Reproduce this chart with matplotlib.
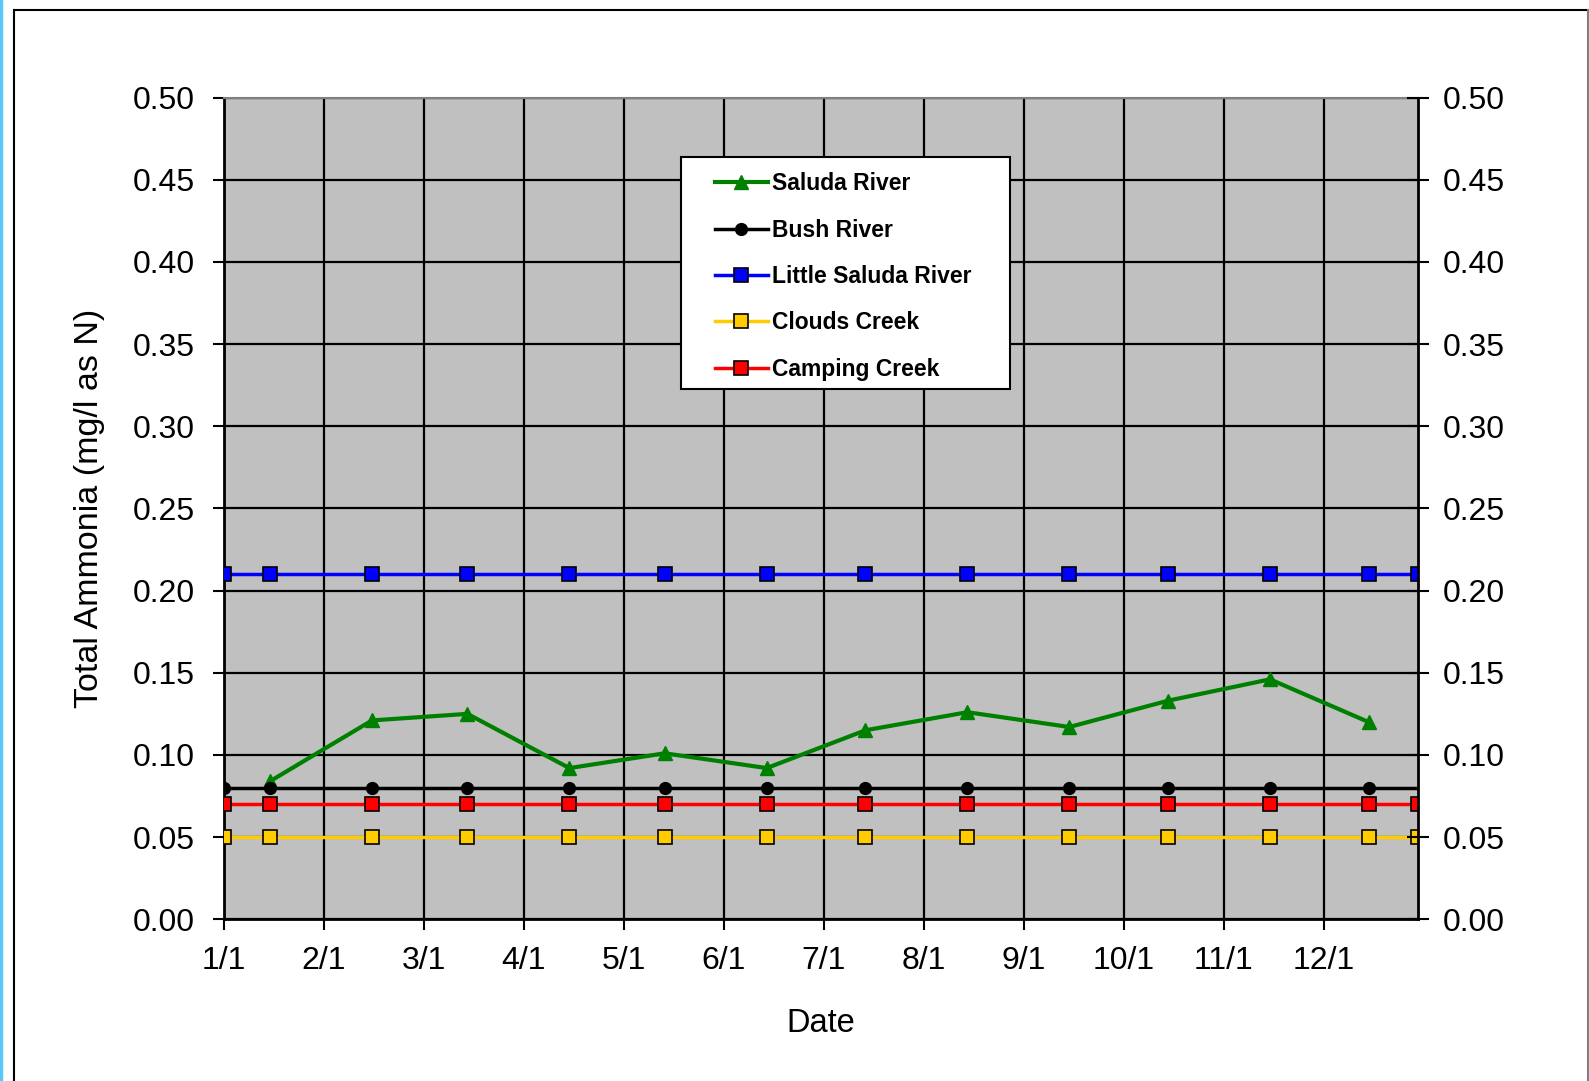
import matplotlib
matplotlib.use("Agg")
from matplotlib import pyplot as plt
from matplotlib.patches import Rectangle
from matplotlib.lines import Line2D

plt.rcParams["font.family"] = ["Liberation Sans", "DejaVu Sans"]

# sampling days (day of year) and series values
sample_day = [0, 14, 45, 74, 105, 134, 165, 195, 226, 257, 287, 318, 348, 363]
saluda_day = sample_day[1:13]
saluda = [0.084, 0.121, 0.125, 0.092, 0.101, 0.092, 0.115, 0.126, 0.117, 0.133, 0.146, 0.120]
bush = [0.08] * 14
little_saluda = [0.21] * 14
clouds = [0.05] * 14
camping = [0.07] * 14

month_labels = ["1/1", "2/1", "3/1", "4/1", "5/1", "6/1", "7/1", "8/1", "9/1", "10/1", "11/1", "12/1"]
month_ticks = [i * 30.4 for i in range(12)]
y_ticks = [0.0, 0.05, 0.10, 0.15, 0.20, 0.25, 0.30, 0.35, 0.40, 0.45, 0.50]

fig = plt.figure(figsize=(15.89, 10.81), dpi=100)
ax = fig.add_axes([224 / 1589, 1 - 919.3 / 1081, (1418 - 224) / 1589, (919.3 - 97.5) / 1081])
ax.set_facecolor("#C0C0C0")

ax.plot(saluda_day, saluda, color="#008000", lw=3.0, marker="^", ms=10,
        mfc="#008000", mec="#008000", label="Saluda River", zorder=5)
ax.plot(sample_day, bush, color="black", lw=2.5, marker="o", ms=8.5,
        markevery=list(range(13)), label="Bush River", zorder=5)
ax.plot(sample_day, little_saluda, color="#0000FF", lw=2.5, marker="s", ms=9.5,
        mfc="#0000FF", mec="black", mew=1.2, label="Little Saluda River", zorder=5)
ax.plot(sample_day, clouds, color="#FFCC00", lw=2.5, marker="s", ms=9.5,
        mfc="#FFCC00", mec="black", mew=1.2, label="Clouds Creek", zorder=5)
ax.plot(sample_day, camping, color="#FF0000", lw=2.5, marker="s", ms=9.5,
        mfc="#FF0000", mec="black", mew=1.2, label="Camping Creek", zorder=5)

ax.set_xlim(0, 363)
ax.set_ylim(0, 0.5)
ax.set_xticks(month_ticks, month_labels)
ax.set_yticks(y_ticks, [f"{v:.2f}" for v in y_ticks])
ax.grid(True, color="black", lw=1.6, zorder=1)
ax.set_axisbelow(True)
ax.tick_params(axis="both", labelsize=23, length=8, width=1.5, direction="out", color="black")
ax.tick_params(axis="y", pad=13)
ax.tick_params(axis="x", pad=11)
for s in ["left", "bottom"]:
    ax.spines[s].set_color("black")
    ax.spines[s].set_linewidth(2)
ax.spines["top"].set_color("#808080")
ax.spines["top"].set_linewidth(1.5)
ax.spines["right"].set_visible(False)

ax2 = ax.twinx()
ax2.set_ylim(0, 0.5)
ax2.set_yticks(y_ticks, [f"{v:.2f}" for v in y_ticks])
ax2.tick_params(axis="y", labelsize=23, length=16, width=1.5, direction="inout", pad=10)
ax2.spines["right"].set_color("black")
ax2.spines["right"].set_linewidth(2)
for s in ["left", "top", "bottom"]:
    ax2.spines[s].set_visible(False)

ax.set_xlabel("Date", fontsize=23.5, labelpad=23)
ax.set_ylabel("Total Ammonia (mg/l as N)", fontsize=24.5, labelpad=20)

# legend box (Excel style, wider than its content)
ax2.add_patch(Rectangle((0.3825, 0.645), 0.2758, 0.282, transform=ax.transAxes,
                        facecolor="white", edgecolor="black", lw=1.5, zorder=10))
handles, labels = ax.get_legend_handles_labels()
leg = ax2.legend(handles, labels, loc="upper left", bbox_to_anchor=(0.4112, 0.909),
                 bbox_transform=ax.transAxes, frameon=False, borderpad=0, borderaxespad=0,
                 handlelength=2.3, handletextpad=0.2, labelspacing=1.02,
                 prop={"weight": "bold", "size": 16.5})
leg.set_zorder(11)

# outer chart frame and page edge
fig.add_artist(Line2D([14 / 1589, 1], [1 - 10 / 1081] * 2, color="black", lw=1.5))
fig.add_artist(Line2D([14 / 1589] * 2, [0, 1 - 10 / 1081], color="black", lw=1.5))
fig.add_artist(Line2D([1588 / 1589] * 2, [0, 1 - 10 / 1081], color="#808080", lw=1.5))
fig.add_artist(Line2D([1 / 1589] * 2, [0, 1], color="#5AC8FA", lw=2.5))

fig.savefig("out.png", dpi=100)
